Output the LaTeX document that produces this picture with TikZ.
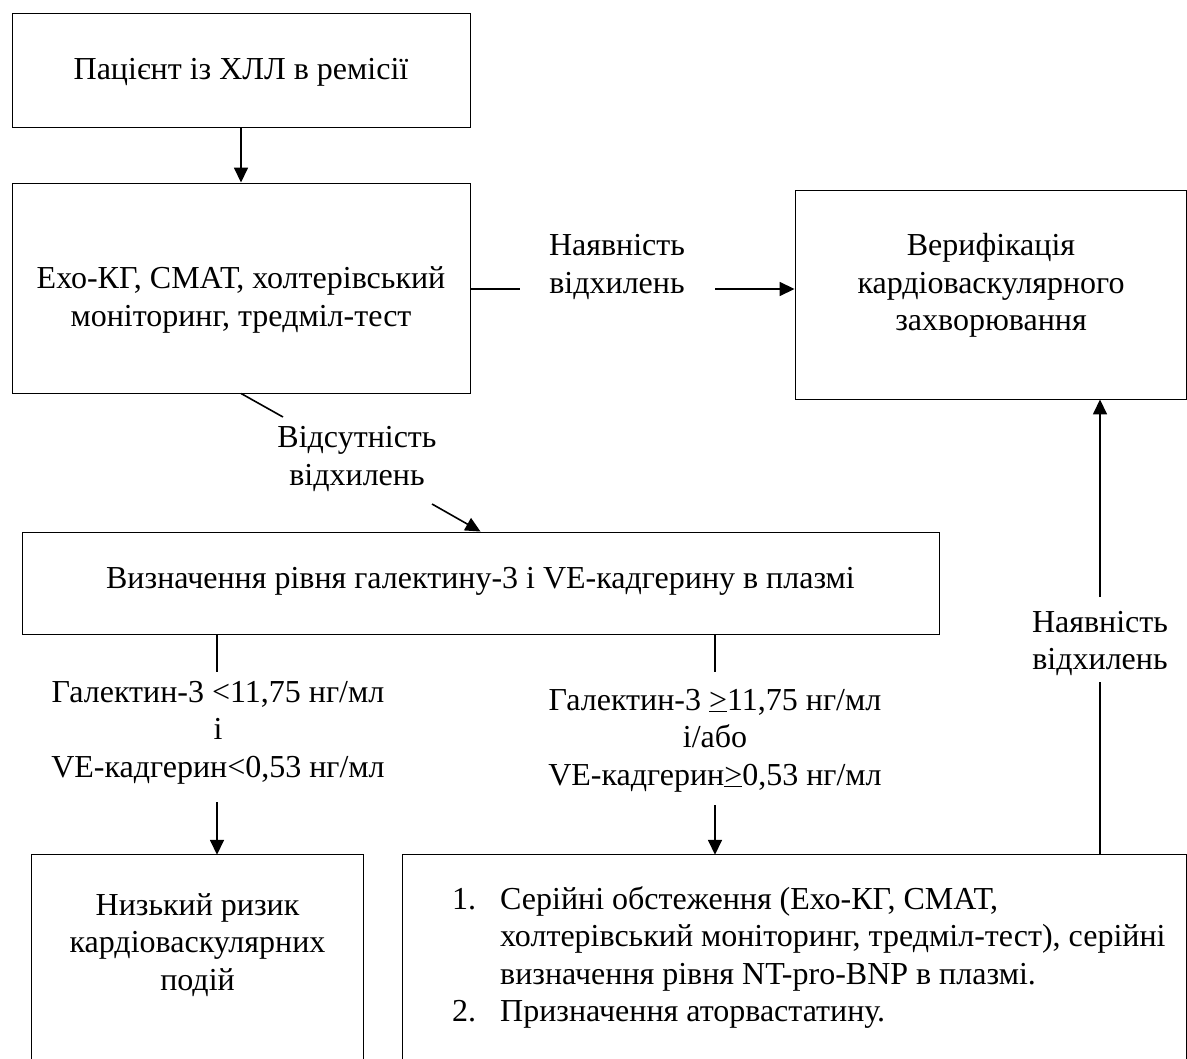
\documentclass[tikz,border=0pt]{standalone}
\usepackage{fontspec}
\setmainfont{Liberation Serif}
\usetikzlibrary{arrows.meta}
\newcommand\mltext[2][c]{\begin{tabular}[t]{@{}#1@{}}#2\end{tabular}}
\begin{document}
\begin{tikzpicture}[x=1pt,y=-1pt,
  boxnode/.style={draw, line width=0.9pt, inner sep=0pt},
  frame/.style={draw=none, inner sep=0pt},
  txt/.style={font=\fontsize{32}{37.5}\selectfont, inner sep=0pt, anchor=base},
  conn/.style={line width=1.6pt},
  arr/.style={conn, -{Triangle[length=15pt,width=14pt]}},
  side/.style={line width=0.9pt}]
\useasboundingbox[fill=white] (0,0) rectangle (1187,1059);

% boxes
\node[boxnode, minimum width=458pt, minimum height=114pt] (b1) at (241,70) {};
\node[boxnode, minimum width=458pt, minimum height=210pt] (b2) at (241,288) {};
\node[boxnode, minimum width=391pt, minimum height=209pt] (b3) at (990.5,294.5) {};
\node[boxnode, minimum width=917pt, minimum height=102pt] (b4) at (480.5,583) {};
\node[frame, minimum width=331pt, minimum height=220pt] (b5) at (197.5,965) {};
\node[frame, minimum width=783pt, minimum height=220pt] (b6) at (794.5,965) {};
\draw[side] (b5.south west) -- (b5.north west) -- (b5.north east) -- (b5.south east);
\draw[side] (b6.south west) -- (b6.north west) -- (b6.north east) -- (b6.south east);

% texts
\node[txt] (t1) at (241,80) {Пацієнт із ХЛЛ в ремісії};
\node[txt] (t2) at (241,289) {\mltext{Ехо-КГ, СМАТ, холтерівський\\моніторинг, тредміл-тест}};
\node[txt] (t3) at (991,256) {\mltext{Верифікація\\кардіоваскулярного\\захворювання}};
\node[txt] (t4) at (480.5,588) {Визначення рівня галектину-3 і VE-кадгерину в плазмі};
\node[txt] (t5) at (197.5,915) {\mltext{Низький ризик\\кардіоваскулярних\\подій}};
\node[txt, anchor=base west] (t6) at (452,909) {\mltext[l]{1.\\ \\ \\2.}};
\node[txt, anchor=base west] (t7) at (500,909) {\mltext[l]{Серійні обстеження (Ехо-КГ, СМАТ,\\холтерівський моніторинг, тредміл-тест), серійні\\визначення рівня NT-pro-BNP в плазмі.\\Призначення аторвастатину.}};

% labels
\node[txt] (L1) at (617,256) {\mltext{Наявність\\відхилень}};
\node[txt] (L2) at (357,448) {\mltext{Відсутність\\відхилень}};
\node[txt] (L3) at (218,702) {\mltext{Галектин-3 <11,75 нг/мл\\і\\VE-кадгерин<0,53 нг/мл}};
\node[txt] (L4) at (715,710) {\mltext{Галектин-3 \underline{>}11,75 нг/мл\\і/або\\VE-кадгерин\underline{>}0,53 нг/мл}};
\node[txt] (L5) at (1100,632) {\mltext{Наявність\\відхилень}};

% connector ends
\coordinate (h1) at (520,289);
\coordinate (h2) at (715,289);
\coordinate (d1) at (283,417);
\coordinate (d2) at (432,504);
\coordinate (v1) at (217,672);
\coordinate (v2) at (217,802);
\coordinate (v3) at (715,672);
\coordinate (v4) at (715,805);
\coordinate (u1) at (1100,682);
\coordinate (u2) at (1100,597);

% connectors
\draw[arr] (b1.south) -- (b2.north);
\draw[conn] (h1 -| b2.east) -- (h1);
\draw[arr] (h2) -- (h2 -| b3.west);
\draw[conn] (b2.south) -- (d1);
\draw[arr] (d2) -- (b4.north);
\draw[conn] (v1 |- b4.south) -- (v1);
\draw[arr] (v2) -- (v2 |- b5.north);
\draw[conn] (v3 |- b4.south) -- (v3);
\draw[arr] (v4) -- (v4 |- b6.north);
\draw[conn] (u1 |- b6.north) -- (u1);
\draw[arr] (u2) -- (u2 |- b3.south);
\end{tikzpicture}
\end{document}
